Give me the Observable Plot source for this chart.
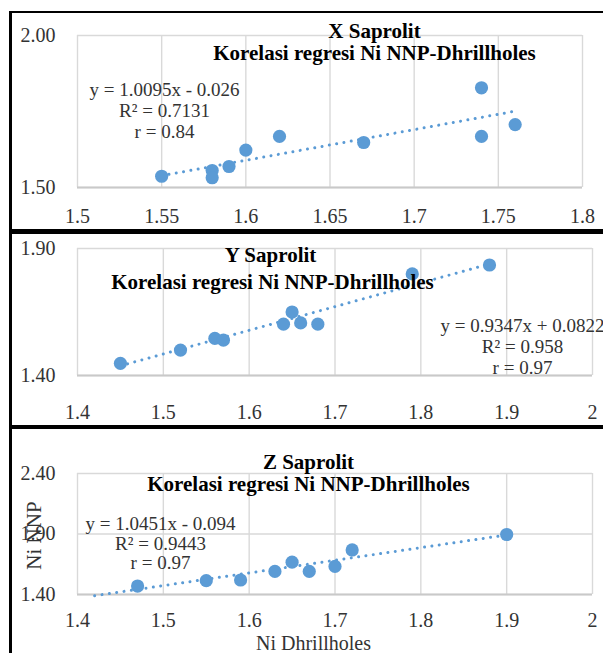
<!DOCTYPE html>
<html>
<head>
<meta charset="utf-8">
<script src="https://cdn.jsdelivr.net/npm/d3@7"></script>
<script src="https://cdn.jsdelivr.net/npm/@observablehq/plot@0.6"></script>
<style>
  html, body { margin: 0; padding: 0; background: #fff; }
  #wrap { position: relative; width: 603px; height: 653px; overflow: hidden; background: #fff; }
  .panel { position: absolute; left: 0; width: 603px; }
  .line { position: absolute; background: #000; }
  svg { display: block; }
</style>
</head>
<body>
<div id="wrap">
  <div class="panel" id="p1" style="top:0px;height:232px"></div>
  <div class="panel" id="p2" style="top:232px;height:195px"></div>
  <div class="panel" id="p3" style="top:427px;height:226px"></div>
  <div class="line" style="left:9px;top:11px;width:600px;height:2px"></div>
  <div class="line" style="left:9px;top:228.5px;width:600px;height:5px"></div>
  <div class="line" style="left:9px;top:424.5px;width:600px;height:4.5px"></div>
  <div class="line" style="left:9px;top:11px;width:2.5px;height:650px"></div>
</div>
<script>
// ---- Data ----
// Panel X Saprolit
const xs1 = [1.55, 1.58, 1.58, 1.59, 1.60, 1.62, 1.67, 1.74, 1.74, 1.76];
const ys1 = [1.537, 1.556, 1.532, 1.569, 1.623, 1.668, 1.648, 1.828, 1.668, 1.707];
const trendX1 = [1.55, 1.76];
const trendY1 = [1.539, 1.751];
const xTicks1 = [1.5, 1.55, 1.6, 1.65, 1.7, 1.75, 1.8];
const yTicks1 = [1.5, 2.0];
const title1 = ["X Saprolit", "Korelasi regresi Ni NNP-Dhrillholes"];
const eq1 = ["y = 1.0095x - 0.026", "R² = 0.7131", "r = 0.84"];

// Panel Y Saprolit
const xs2 = [1.45, 1.52, 1.56, 1.57, 1.64, 1.65, 1.66, 1.68, 1.79, 1.88];
const ys2 = [1.448, 1.50, 1.546, 1.539, 1.602, 1.65, 1.607, 1.602, 1.80, 1.835];
const trendX2 = [1.45, 1.88];
const trendY2 = [1.438, 1.839];
const xTicks2 = [1.4, 1.5, 1.6, 1.7, 1.8, 1.9, 2];
const yTicks2 = [1.4, 1.9];
const title2 = ["Y Saprolit", "Korelasi regresi Ni NNP-Dhrillholes"];
const eq2 = ["y = 0.9347x + 0.0822", "R² = 0.958", "r = 0.97"];

// Panel Z Saprolit
const xs3 = [1.47, 1.55, 1.59, 1.63, 1.65, 1.67, 1.70, 1.72, 1.90];
const ys3 = [1.47, 1.514, 1.52, 1.591, 1.667, 1.591, 1.632, 1.768, 1.896];
const trendX3 = [1.42, 1.90];
const trendY3 = [1.390, 1.892];
const xTicks3 = [1.4, 1.5, 1.6, 1.7, 1.8, 1.9, 2];
const yTicks3 = [1.4, 1.9, 2.4];
const title3 = ["Z Saprolit", "Korelasi regresi Ni NNP-Dhrillholes"];
const eq3 = ["y = 1.0451x - 0.094", "R² = 0.9443", "r = 0.97"];
const xLabel = "Ni Dhrillholes";
const yLabel = "Ni NNP";

// ---- Styles ----
const FONT = "'Liberation Serif', 'Times New Roman', serif";
const BLUE = "#5B9BD5";
const GRID = "#d9d9d9";
const TXT = "#333";

function panel(opts) {
  const pts = opts.xs.map((x, i) => ({x, y: opts.ys[i]}));
  const trend = opts.tx.map((x, i) => ({x, y: opts.ty[i]}));
  const marks = [
    Plot.gridX({ticks: opts.xTicks, stroke: GRID, strokeOpacity: 1, strokeWidth: 1.4}),
    Plot.gridY({ticks: opts.yTicks, stroke: GRID, strokeOpacity: 1, strokeWidth: 1.4}),
    Plot.ruleY([opts.yDomain[0]], {stroke: "#c9c9c9", strokeWidth: 1.8}),
    Plot.axisX({ticks: opts.xTicks, tickFormat: d => String(d), tickSize: 0, tickPadding: opts.xPad, label: null, fill: TXT, fontSize: 20}),
    Plot.axisY({ticks: opts.yTicks, tickFormat: d3.format(".2f"), tickSize: 0, tickPadding: 22, label: null, fill: TXT, fontSize: 20}),
    Plot.line(trend, {x: "x", y: "y", stroke: BLUE, strokeWidth: 3, strokeDasharray: "0.01 7.4", strokeLinecap: "round"}),
    Plot.dot(pts, {x: "x", y: "y", r: 6.6, fill: BLUE, stroke: "none"}),
    Plot.text([opts.title[0]], {text: d => d, frameAnchor: "top-left", textAnchor: "middle", lineAnchor: "middle", dx: opts.t1[0], dy: opts.t1[1], fontSize: 21, fontWeight: "bold", fill: "#000", letterSpacing: "-0.3px"}),
    Plot.text([opts.title[1]], {text: d => d, frameAnchor: "top-left", textAnchor: "middle", lineAnchor: "middle", dx: opts.t2[0], dy: opts.t2[1], fontSize: 21, fontWeight: "bold", fill: "#000", letterSpacing: "-0.3px"}),
    Plot.text([opts.eq.join("\n")], {text: d => d, frameAnchor: "top-left", textAnchor: "middle", lineAnchor: "middle", dx: opts.e[0], dy: opts.e[1], fontSize: 19, lineHeight: opts.eLH, fill: TXT})
  ];
  if (opts.extra) marks.push(...opts.extra);
  return Plot.plot({
    width: 603,
    height: opts.height,
    marginTop: opts.mt,
    marginBottom: opts.mb,
    marginLeft: 77,
    marginRight: opts.mr,
    x: {domain: opts.xDomain},
    y: {domain: opts.yDomain},
    style: {fontFamily: FONT, fontSize: "20px", background: "transparent", overflow: "visible"},
    marks
  });
}

document.getElementById("p1").appendChild(panel({
  xs: xs1, ys: ys1, tx: trendX1, ty: trendY1, xTicks: xTicks1, yTicks: yTicks1,
  xDomain: [1.5, 1.8], yDomain: [1.5, 2.0], title: title1, eq: eq1,
  height: 232, mt: 35, mb: 45, mr: 21, xPad: 21.5,
  t1: [297, -4], t2: [297, 18], e: [87, 75], eLH: 1.105
}));

document.getElementById("p2").appendChild(panel({
  xs: xs2, ys: ys2, tx: trendX2, ty: trendY2, xTicks: xTicks2, yTicks: yTicks2,
  xDomain: [1.4, 2.0], yDomain: [1.4, 1.9], title: title2, eq: eq2,
  height: 195, mt: 16, mb: 52, mr: 11, xPad: 29.5,
  t1: [193, 7], t2: [195, 34], e: [445, 98], eLH: 1.105
}));

document.getElementById("p3").appendChild(panel({
  xs: xs3, ys: ys3, tx: trendX3, ty: trendY3, xTicks: xTicks3, yTicks: yTicks3,
  xDomain: [1.4, 2.0], yDomain: [1.4, 2.4], title: title3, eq: eq3,
  height: 226, mt: 46, mb: 59, mr: 11, xPad: 18,
  t1: [231, -11], t2: [231, 11], e: [83, 70], eLH: 1.03,
  extra: [
    Plot.text([xLabel], {text: d => d, frameAnchor: "bottom-left", textAnchor: "middle", lineAnchor: "middle", dx: 236, dy: 49.5, fontSize: 20, fill: TXT}),
    Plot.text([yLabel], {text: d => d, frameAnchor: "top-left", textAnchor: "middle", lineAnchor: "middle", dx: -43.5, dy: 62, rotate: -90, fontSize: 21, fill: TXT})
  ]
}));
</script>
</body>
</html>
